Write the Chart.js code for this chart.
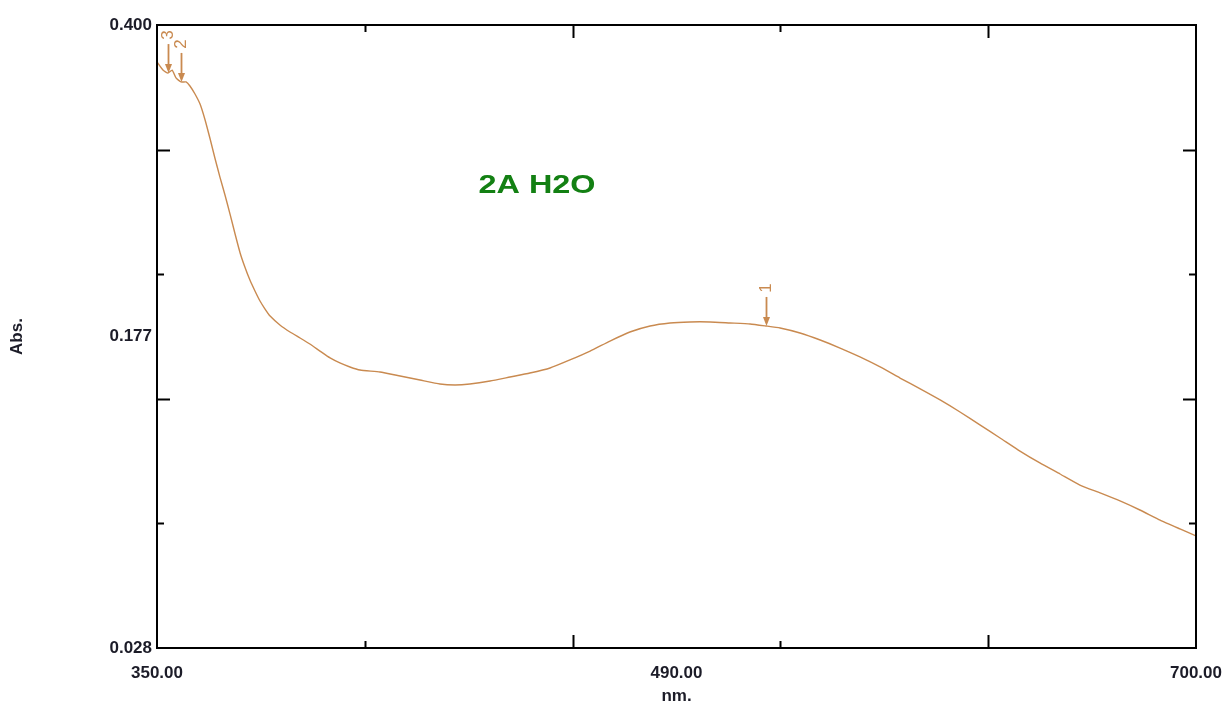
<!DOCTYPE html>
<html>
<head>
<meta charset="utf-8">
<script src="https://cdn.jsdelivr.net/npm/chart.js@4.4.1/dist/chart.umd.min.js"></script>
<style>
  html, body { margin: 0; padding: 0; background: #ffffff; }
  #wrap { width: 1228px; height: 707px; }
</style>
</head>
<body>
<div id="wrap"><canvas id="spectrum" width="1228" height="707"></canvas></div>
<script>
// Absorption spectrum, sample 2A in water
const wavelengths = [
  350.0, 352.0, 353.7, 355.1, 356.4, 358.1, 359.8, 361.1, 362.8, 364.5,
  366.2, 367.9, 369.5, 371.2, 372.9, 374.6, 376.3, 378.0, 379.6, 381.3,
  383.0, 384.7, 386.4, 388.1, 391.4, 394.8, 398.2, 401.5, 404.9, 408.3,
  411.6, 415.0, 418.4, 425.1, 431.9, 438.6, 445.3, 450.4, 455.4, 462.2,
  468.9, 475.6, 482.4, 489.1, 495.9, 502.6, 509.3, 516.1, 522.8, 529.5,
  536.3, 543.0, 549.8, 555.1, 559.9, 566.6, 573.4, 580.1, 586.8, 593.6,
  600.3, 607.1, 613.8, 620.5, 627.2, 634.0, 640.7, 647.4, 654.2, 660.9,
  667.7, 674.4, 681.1, 687.9, 694.6, 700.0
];
const absorbance = [
  0.3779, 0.3731, 0.3713, 0.3731, 0.3684, 0.3660, 0.3660, 0.3636, 0.3588, 0.3528,
  0.3433, 0.3319, 0.3206, 0.3092, 0.2985, 0.2871, 0.2752, 0.2639, 0.2555, 0.2477,
  0.2412, 0.2352, 0.2304, 0.2262, 0.2209, 0.2167, 0.2131, 0.2095, 0.2053, 0.2012,
  0.1982, 0.1958, 0.1940, 0.1928, 0.1904, 0.1880, 0.1856, 0.1850, 0.1856, 0.1874,
  0.1898, 0.1922, 0.1952, 0.2000, 0.2053, 0.2113, 0.2167, 0.2203, 0.2221, 0.2227,
  0.2227, 0.2221, 0.2215, 0.2203, 0.2191, 0.2161, 0.2119, 0.2071, 0.2018, 0.1958,
  0.1892, 0.1827, 0.1761, 0.1689, 0.1612, 0.1534, 0.1456, 0.1385, 0.1319, 0.1253,
  0.1206, 0.1158, 0.1104, 0.1044, 0.0991, 0.0949
];

// Axis ranges and labels
const xRange = [350, 700];
const yRange = [0.028, 0.400];
const xTickLabels = ['350.00', '490.00', '700.00'];
const xLabelPositions = [350, 525, 700];
const yTickLabels = ['0.028', '0.177', '0.400'];
const yLabelPositions = [0.028, 0.214, 0.400];

// Inner tick marks (long / short alternate)
const xMarks = [420, 490, 560, 630];
const xMarkLong = [false, true, false, true];
const yMarks = [0.1024, 0.1768, 0.2512, 0.3256];
const yMarkLong = [false, true, false, true];

// Picked peaks
const peakNumbers = ['1', '2', '3'];
const peakWavelengths = [555.1, 358.1, 353.7];
const peakAbsorbance = [0.2203, 0.3660, 0.3713];

const sampleName = '2A H2O';

const LINE_COLOR = '#c98a50';
const AXIS_FONT = { family: 'Liberation Sans, Arial, sans-serif', size: 17, weight: 'bold' };

const frameAndMarks = {
  id: 'frameAndMarks',
  afterDatasetsDraw(chart) {
    const { ctx, chartArea: a, scales: { x, y } } = chart;
    ctx.save();
    // plot frame
    ctx.strokeStyle = '#000';
    ctx.lineWidth = 2;
    ctx.strokeRect(a.left, a.top, a.right - a.left, a.bottom - a.top);
    // inner ticks on all four sides
    ctx.beginPath();
    xMarks.forEach((v, i) => {
      const px = Math.round(x.getPixelForValue(v)) + 0.5;
      const len = xMarkLong[i] ? 13 : 7;
      ctx.moveTo(px, a.bottom); ctx.lineTo(px, a.bottom - len);
      ctx.moveTo(px, a.top); ctx.lineTo(px, a.top + len);
    });
    yMarks.forEach((v, i) => {
      const py = Math.round(y.getPixelForValue(v)) + 0.5;
      const len = yMarkLong[i] ? 13 : 7;
      ctx.moveTo(a.left, py); ctx.lineTo(a.left + len, py);
      ctx.moveTo(a.right, py); ctx.lineTo(a.right - len, py);
    });
    ctx.stroke();

    // peak arrows with numbers
    ctx.strokeStyle = LINE_COLOR;
    ctx.fillStyle = LINE_COLOR;
    ctx.lineWidth = 1.8;
    peakNumbers.forEach((label, i) => {
      const px = Math.round(x.getPixelForValue(peakWavelengths[i])) + 0.5;
      const tip = y.getPixelForValue(peakAbsorbance[i]);
      ctx.beginPath();
      ctx.moveTo(px, tip - 29);
      ctx.lineTo(px, tip - 6);
      ctx.stroke();
      ctx.beginPath();
      ctx.moveTo(px, tip);
      ctx.lineTo(px - 3.5, tip - 9);
      ctx.lineTo(px + 3.5, tip - 9);
      ctx.closePath();
      ctx.fill();
      ctx.save();
      ctx.translate(px, tip - 38);
      ctx.rotate(-Math.PI / 2);
      ctx.font = '17px Liberation Sans, Arial, sans-serif';
      ctx.textAlign = 'center';
      ctx.textBaseline = 'middle';
      ctx.fillText(label, 0, 0);
      ctx.restore();
    });

    // sample name, widened to its printed width
    ctx.fillStyle = '#138013';
    ctx.font = 'bold 25px Liberation Sans, Arial, sans-serif';
    ctx.textAlign = 'center';
    ctx.textBaseline = 'middle';
    const w = ctx.measureText(sampleName).width;
    ctx.translate(537, 186);
    ctx.scale(117 / w, 1);
    ctx.fillText(sampleName, 0, 0);
    ctx.restore();
  }
};

new Chart(document.getElementById('spectrum'), {
  type: 'line',
  data: {
    datasets: [{
      data: wavelengths.map((w, i) => ({ x: w, y: absorbance[i] })),
      borderColor: LINE_COLOR,
      borderWidth: 1.4,
      pointRadius: 0,
      tension: 0.15,
      fill: false
    }]
  },
  options: {
    responsive: false,
    animation: false,
    devicePixelRatio: 1,
    layout: { padding: { top: 25, right: 32, left: 0, bottom: 0 } },
    plugins: { legend: { display: false }, tooltip: { enabled: false } },
    scales: {
      x: {
        type: 'linear',
        min: xRange[0],
        max: xRange[1],
        grid: { display: false, drawTicks: false },
        border: { display: false },
        afterBuildTicks: s => { s.ticks = xLabelPositions.map(v => ({ value: v })); },
        afterFit: s => { s.height = 59; s.paddingLeft = 0; s.paddingRight = 0; },
        ticks: {
          autoSkip: false,
          maxRotation: 0,
          padding: 15,
          color: '#1c1c28',
          font: AXIS_FONT,
          callback: (v, i) => xTickLabels[i]
        },
        title: {
          display: true,
          text: 'nm.',
          color: '#1c1c28',
          font: AXIS_FONT,
          padding: { top: 0, bottom: 0 }
        }
      },
      y: {
        type: 'linear',
        min: yRange[0],
        max: yRange[1],
        grid: { display: false, drawTicks: false },
        border: { display: false },
        afterBuildTicks: s => { s.ticks = yLabelPositions.map(v => ({ value: v })); },
        afterFit: s => { s.width = 157; },
        ticks: {
          autoSkip: false,
          padding: 5,
          color: '#1c1c28',
          font: AXIS_FONT,
          callback: (v, i) => yTickLabels[i]
        },
        title: {
          display: true,
          text: 'Abs.',
          color: '#1c1c28',
          font: AXIS_FONT,
          padding: { top: 7, bottom: 7 }
        }
      }
    }
  },
  plugins: [frameAndMarks]
});
</script>
</body>
</html>
